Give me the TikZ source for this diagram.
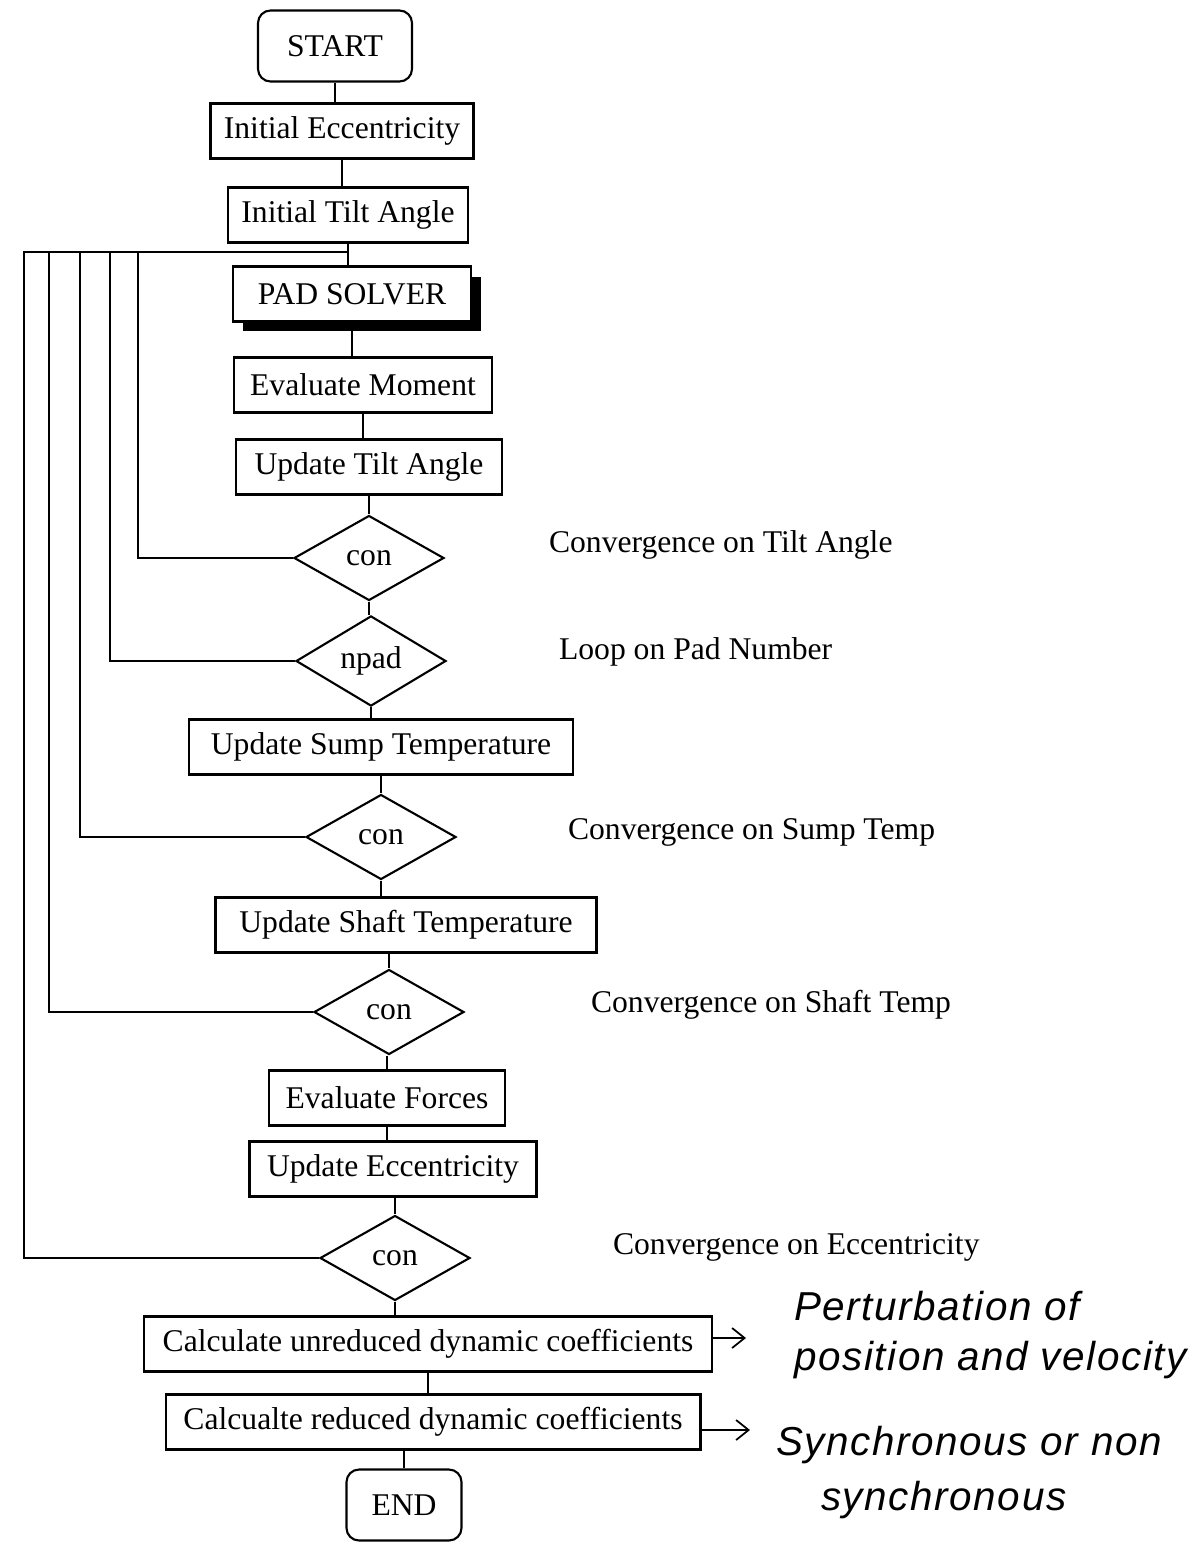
\documentclass[tikz,border=0pt]{standalone}
\usepackage{fontspec}
\setmainfont{Liberation Serif}
\newfontfamily\handfont[LetterSpace=4]{Liberation Sans}
\usetikzlibrary{shapes.geometric,arrows.meta,shadows}

\begin{document}
\begin{tikzpicture}[x=0.02cm,y=-0.02cm,line width=1.2pt,
    font=\fontsize{18}{21}\selectfont,
    box/.style={draw,rectangle,fill=white,inner sep=2pt,minimum height=1.1cm},
    term/.style={draw,rectangle,rounded corners=0.25cm,minimum height=1.42cm},
    decision/.style={draw,diamond,minimum width=3cm,minimum height=1.7cm,inner sep=0pt},
    note/.style={anchor=west,inner sep=0pt},
    hand/.style={anchor=west,inner sep=0pt,font=\handfont\itshape\fontsize{23}{27}\selectfont},
    scribble/.style={-{Straight Barb[length=2.5mm,width=4mm]},line width=1pt}]
    \useasboundingbox (0,0) rectangle (1192,1544);
    % main column
    \node[term,minimum width=3.08cm] (start) at (335,46) {START};
    \node[box,minimum width=5.26cm] (ie) at (342,131) {Initial Eccentricity};
    \node[box,minimum width=4.8cm] (tilt) at (348,215) {Initial Tilt Angle};
    \node[box,minimum width=4.76cm,drop shadow={shadow xshift=0.2cm,shadow yshift=-0.2cm,fill=black,opacity=1}] (pad) at (352,294) {PAD SOLVER};
    \node[box,minimum width=5.16cm] (moment) at (363,385) {Evaluate Moment};
    \node[box,minimum width=5.32cm] (utilt) at (369,467) {Update Tilt Angle};
    \node[decision] (c1) at (369,558) {con};
    \node[decision] (npad) at (371,661) {npad};
    \node[box,minimum width=7.68cm] (sump) at (381,747) {Update Sump Temperature};
    \node[decision] (c2) at (381,837) {con};
    \node[box,minimum width=7.62cm] (shaft) at (406,925) {Update Shaft Temperature};
    \node[decision] (c3) at (389,1012) {con};
    \node[box,minimum width=4.72cm] (forces) at (387,1098) {Evaluate Forces};
    \node[box,minimum width=5.74cm] (uecc) at (393,1169) {Update Eccentricity};
    \node[decision] (c4) at (395,1258) {con};
    \node[box,minimum width=11.36cm] (unred) at (428,1344) {Calculate unreduced dynamic coefficients};
    \node[box,minimum width=10.7cm] (red) at (433,1422) {Calcualte reduced dynamic coefficients};
    \node[term,minimum width=2.3cm] (end) at (404,1505) {END};
    % side notes
    \node[note] (n1) at (548,545) {Convergence on Tilt Angle};
    \node[note] (n2) at (558,652) {Loop on Pad Number};
    \node[note] (n3) at (567,832) {Convergence on Sump Temp};
    \node[note] (n4) at (590,1005) {Convergence on Shaft Temp};
    \node[note] (n5) at (612,1247) {Convergence on Eccentricity};
    \node[hand] (h1) at (793,1306) {Perturbation of};
    \node[hand] (h2) at (793,1360) {position and velocity};
    \node[hand] (h3) at (775,1445) {Synchronous or non};
    \node[hand] (h4) at (820,1500) {synchronous};
    % connectors (vertical, under the narrower shape)
    \foreach \a/\b in {start/ie,ie/tilt,pad/moment,moment/utilt,c1/npad,npad/sump,
        c2/shaft,c4/unred,forces/uecc,unred/red}
        \draw (\a.south) -- (\a.south |- \b.north);
    \foreach \a/\b in {utilt/c1,sump/c2,shaft/c3,c3/forces,uecc/c4,red/end}
        \draw (\b.north |- \a.south) -- (\b.north);
    \draw (tilt.south) -- (tilt.south |- pad.north);
    \coordinate (join) at (tilt.south |- 0,252);
    \foreach \d/\x in {c1/138,npad/110,c2/80,c3/49,c4/24}
        \draw (\d.west) -| (\x,252) -- (join);
    % handwritten arrows
    \coordinate (p1) at (746,1338);
    \coordinate (p2) at (750,1430);
    \draw[scribble] (unred.east |- p1) -- (p1);
    \draw[scribble] (red.east |- p2) -- (p2);
\end{tikzpicture}
\end{document}
